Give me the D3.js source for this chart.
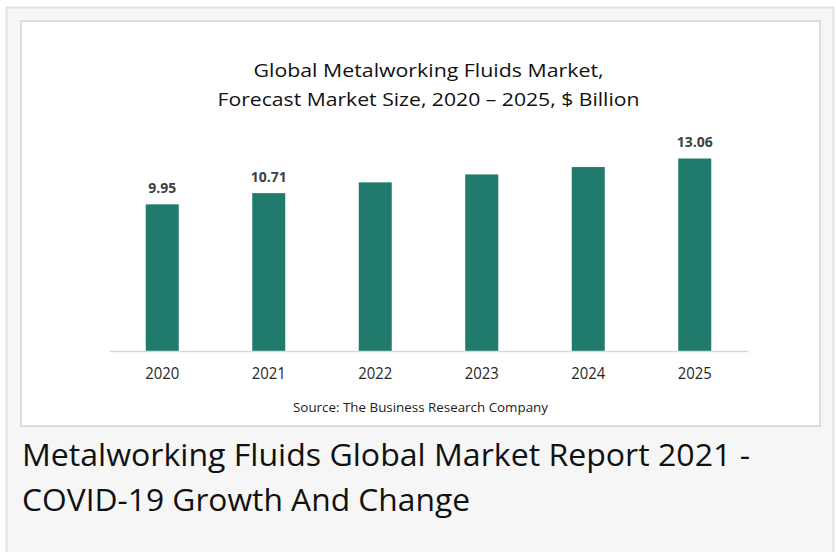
<!DOCTYPE html>
<html>
<head>
<meta charset="utf-8">
<script src="https://cdn.jsdelivr.net/npm/d3@7"></script>
<style>
  html, body { margin: 0; padding: 0; background: #ffffff; }
  svg { display: block; }
</style>
</head>
<body>
<svg id="chart" width="836" height="552"></svg>
<script>
const years = ["2020", "2021", "2022", "2023", "2024", "2025"];
const marketSize = [9.95, 10.71, 11.44, 11.98, 12.48, 13.06];
const shownLabels = ["9.95", "10.71", "", "", "", "13.06"];
const titleLines = ["Global Metalworking Fluids Market,", "Forecast Market Size, 2020 \u2013 2025, $ Billion"];
const sourceText = "Source: The Business Research Company";
const captionLines = ["Metalworking Fluids Global Market Report 2021 -", "COVID-19 Growth And Change"];

const svg = d3.select("#chart");
const font = "'Open Sans', sans-serif";

// outer card
svg.append("rect").attr("x", 6.5).attr("y", 7.5).attr("width", 827).attr("height", 560)
  .attr("fill", "#f6f6f6").attr("stroke", "#e2e2e2").attr("stroke-width", 2);
// inner white chart panel
svg.append("rect").attr("x", 21).attr("y", 21).attr("width", 799).attr("height", 405)
  .attr("fill", "#ffffff").attr("stroke", "#dcdcdc").attr("stroke-width", 2);

const x = d3.scaleBand().domain(years).range([109, 748]).paddingInner(0.69).paddingOuter(0.345);
const y = d3.scaleLinear().domain([0, 13.06]).range([351, 158.5]);

// title
const titleG = svg.append("g");
const titleW = [350, 422];
titleLines.forEach((t, i) => {
  titleG.append("text")
    .attr("x", 428.5).attr("y", 77 + i * 28.5)
    .attr("text-anchor", "middle")
    .attr("font-family", font).attr("font-size", 18.5)
    .attr("fill", "#111")
    .attr("textLength", titleW[i]).attr("lengthAdjust", "spacingAndGlyphs")
    .text(t);
});

// bars
svg.append("g").selectAll("rect").data(years).join("rect")
  .attr("x", d => x(d))
  .attr("width", x.bandwidth())
  .attr("y", (d, i) => y(marketSize[i]))
  .attr("height", (d, i) => y(0) - y(marketSize[i]))
  .attr("fill", "#217b6c");

// x axis
const xAxis = svg.append("g").attr("transform", `translate(0,${y(0)})`)
  .call(d3.axisBottom(x).tickSize(0).tickPadding(0));
xAxis.select(".domain").attr("stroke", "#d9d9d9").attr("stroke-width", 1.5);
xAxis.selectAll(".tick text")
  .attr("y", 28).attr("dy", 0)
  .attr("font-family", font).attr("font-size", 16)
  .attr("fill", "#262626")
  .attr("textLength", 34).attr("lengthAdjust", "spacingAndGlyphs");

// value labels
svg.append("g").selectAll("text").data(years).join("text")
  .attr("x", d => x(d) + x.bandwidth() / 2)
  .attr("y", (d, i) => y(marketSize[i]) - 11.5)
  .attr("text-anchor", "middle")
  .attr("font-family", font).attr("font-size", 14).attr("font-weight", "bold")
  .attr("fill", "#404040")
  .text((d, i) => shownLabels[i]);

// source
svg.append("text")
  .attr("x", 420.5).attr("y", 412)
  .attr("text-anchor", "middle")
  .attr("font-family", font).attr("font-size", 13.5)
  .attr("fill", "#222")
  .attr("textLength", 255).attr("lengthAdjust", "spacingAndGlyphs")
  .text(sourceText);

// caption
const captionW = [728, 448];
captionLines.forEach((t, i) => {
  svg.append("text")
    .attr("x", 22).attr("y", 465.5 + i * 45)
    .attr("font-family", font).attr("font-size", 31)
    .attr("fill", "#111")
    .attr("textLength", captionW[i]).attr("lengthAdjust", "spacingAndGlyphs")
    .text(t);
});
</script>
</body>
</html>
